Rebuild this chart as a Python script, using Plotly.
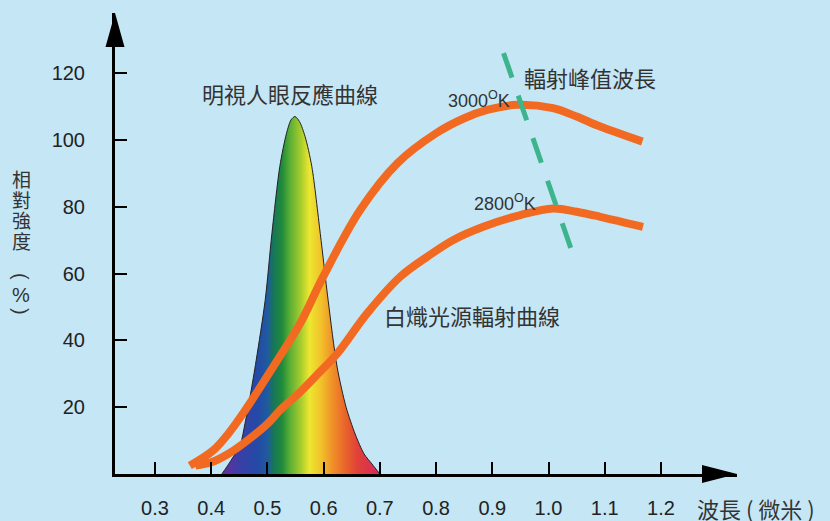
import plotly.graph_objects as go

# ---------------- data ----------------
x_ticks = [0.3, 0.4, 0.5, 0.6, 0.7, 0.8, 0.9, 1.0, 1.1, 1.2]
x_tick_text = ["0.3", "0.4", "0.5", "0.6", "0.7", "0.8", "0.9", "1.0", "1.1", "1.2"]
y_ticks = [20, 40, 60, 80, 100, 120]
y_tick_text = ["20", "40", "60", "80", "100", "120"]

# photopic eye response curve (明視人眼反應曲線)
spec_x = [0.419, 0.435, 0.452, 0.460, 0.470, 0.480, 0.496, 0.508, 0.522, 0.534, 0.542,
          0.549, 0.557, 0.567, 0.579, 0.594, 0.608, 0.624, 0.640, 0.656, 0.672, 0.686, 0.700]
spec_y = [0, 4, 9, 15, 24, 34, 52, 72, 92, 102, 106,
          107, 105.5, 101, 92, 72, 52, 32, 20, 12, 6, 3, 0]

# incandescent radiation curves
k3000_x = [0.362, 0.403, 0.430, 0.464, 0.510, 0.558, 0.599, 0.665, 0.731, 0.800,
           0.850, 0.891, 0.944, 1.008, 1.050, 1.092, 1.167]
k3000_y = [2.5, 7, 12, 20, 32, 45, 59, 79, 93, 102,
           106.5, 109, 110.5, 109.5, 107, 104, 99.5]
k2800_x = [0.372, 0.400, 0.430, 0.464, 0.500, 0.522, 0.558, 0.590, 0.624, 0.677,
           0.736, 0.784, 0.830, 0.884, 0.950, 1.008, 1.050, 1.092, 1.168]
k2800_y = [2.5, 3.5, 6, 10, 15, 19, 24.5, 30, 36, 48,
           59, 65, 70, 74, 77.5, 79.5, 78.5, 77, 74]

# radiation peak wavelength line
peak_x = [0.920, 1.043]
peak_y = [126, 66]

spectrum_scale = [
    [0.00, "#6a2c9c"], [0.11, "#3a3fa6"], [0.22, "#2449a6"], [0.29, "#1f5aa0"],
    [0.32, "#17735f"], [0.38, "#1f8a3a"], [0.43, "#5aae35"], [0.50, "#a6cc2e"],
    [0.555, "#ece830"], [0.63, "#f2c02a"], [0.70, "#f09028"], [0.79, "#e8602c"],
    [0.86, "#e0403a"], [1.00, "#d42a5e"],
]

BG = "#c5e6f5"
ORANGE = "#f26a21"
GREEN = "#3cb58c"
TXT = "#333333"
CJK = "Noto Sans CJK TC, Noto Sans CJK SC, sans-serif"
LAT = "Liberation Sans, Arial, sans-serif"

fig = go.Figure()

fig.add_trace(go.Scatter(
    x=spec_x, y=spec_y, mode="lines", line=dict(color="#222222", width=1, shape="spline", smoothing=0.8),
    fill="tozeroy",
    fillgradient=dict(type="horizontal", colorscale=spectrum_scale, start=spec_x[0], stop=spec_x[-1]),
    hoverinfo="skip", showlegend=False))

for xs, ys in [(k3000_x, k3000_y), (k2800_x, k2800_y)]:
    fig.add_trace(go.Scatter(x=xs, y=ys, mode="lines",
                             line=dict(color=ORANGE, width=8, shape="spline", smoothing=1.0),
                             hoverinfo="skip", showlegend=False))

fig.add_trace(go.Scatter(x=peak_x, y=peak_y, mode="lines",
                         line=dict(color=GREEN, width=5, dash="26px,19px"),
                         hoverinfo="skip", showlegend=False))

# ---------------- layout ----------------
W, H = 830, 521
ML, MR, MT, MB = 115, 93, 13, 47
PW, PH = W - ML - MR, H - MT - MB
X0 = 0.2289
XPX = 562.2          # pixels per unit on x
x_range = [X0, X0 + PW / XPX]
y_range = [0, 138]


def px(xp):
    return (xp - ML) / PW


def py(yp):
    return (H - MB - yp) / PH


axis_common = dict(showgrid=False, zeroline=False, showline=True, linecolor="black", linewidth=3,
                   ticks="inside", ticklen=12, tickwidth=2, tickcolor="black", automargin=False,
                   tickfont=dict(family=LAT, size=20, color="#222222"), fixedrange=True)

fig.update_layout(
    width=W, height=H,
    margin=dict(l=ML, r=MR, t=MT, b=MB, autoexpand=False),
    paper_bgcolor=BG, plot_bgcolor=BG,
    xaxis=dict(range=x_range, tickvals=x_ticks, ticktext=x_tick_text, ticklabelstandoff=14, **axis_common),
    yaxis=dict(range=y_range, tickvals=y_ticks, ticktext=y_tick_text, ticklabelstandoff=23, **axis_common),
    showlegend=False,
)

# arrow heads
fig.add_shape(type="path", xref="paper", yref="paper",
              path=f"M 0,1 L {9.5/PW},{py(47)} L {-9.5/PW},{py(47)} Z",
              fillcolor="black", line=dict(width=0))
fig.add_shape(type="path", xref="paper", yref="paper",
              path=f"M 1,0 L {px(702)},{9/PH} L {px(702)},{-9/PH} Z",
              fillcolor="black", line=dict(width=0))

# labels
labels = [
    ("明視人眼反應曲線", 0.540, 114.0, "center", CJK, 22),
    ("輻射峰值波長", 0.953, 118.8, "left", CJK, 22),
    ("白熾光源輻射曲線", 0.704, 47.6, "left", CJK, 22),
    ("3000<sup>O</sup>K", 0.818, 112.0, "left", LAT, 18),
    ("2800<sup>O</sup>K", 0.864, 81.4, "left", LAT, 18),
]
for t, x, y, anc, fam, sz in labels:
    fig.add_annotation(text=t, x=x, y=y, xref="x", yref="y", xanchor=anc, yanchor="middle",
                       showarrow=False, font=dict(family=fam, size=sz, color=TXT))

# vertical y-axis title
ytitle = [("相", 178, 0, CJK), ("對", 199, 0, CJK), ("強", 219.5, 0, CJK), ("度", 240, 0, CJK),
          ("(", 276, 90, LAT), ("%", 295, 0, LAT), (")", 311, 90, LAT)]
for ch, yp, ang, fam in ytitle:
    fig.add_annotation(text=ch, x=px(21), y=py(yp), xref="paper", yref="paper",
                       xanchor="center", yanchor="middle", showarrow=False, textangle=ang,
                       font=dict(family=fam, size=19 if fam == CJK else 20, color=TXT))

fig.add_annotation(text="波長 ( 微米 )", x=px(695), y=py(508), xref="paper", yref="paper",
                   xanchor="left", yanchor="middle", showarrow=False,
                   font=dict(family=CJK, size=22, color=TXT))

fig.write_html("out.html", config={"displayModeBar": False},
               post_script="document.body.style.margin='0';document.body.style.background='%s';" % BG)
